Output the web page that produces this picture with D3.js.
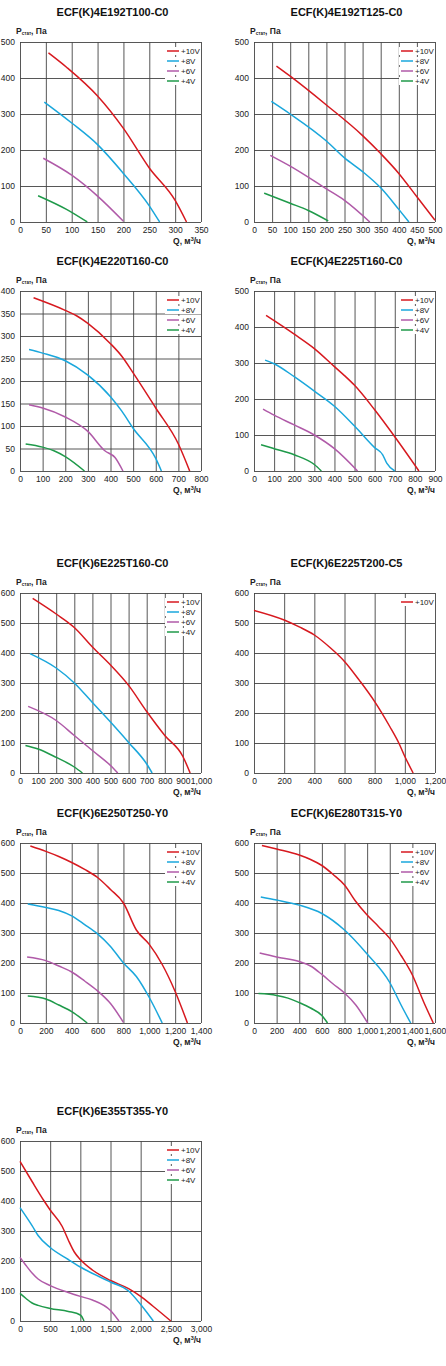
<!DOCTYPE html>
<head>
<meta charset="utf-8">
<style>
  body { margin:0; background:#fff; }
  svg { font-family: 'Liberation Sans', Arial, sans-serif; }
  .title { font-size:11px; font-weight:bold; fill:#111; }
  .tick text { font-size:8.5px; fill:#222; }
  .grid line { stroke:#444; stroke-width:0.9; }
  .grid .light { stroke:#aaa; }
  .domain { display:none; }
  .lbl { font-size:8.5px; font-weight:bold; fill:#222; }
  .leg { font-size:8px; fill:#222; }
</style>
</head>
<body>
<div id="chart"></div>
<script src="https://cdnjs.cloudflare.com/ajax/libs/d3/7.8.5/d3.min.js"></script>
<script>
var voltages = ["+10V", "+8V", "+6V", "+4V"];
var colors = ["#d7191f", "#1aa7dc", "#b05aa8", "#1f9a4a"];

var titles = ["ECF(K)4E192T100-C0", "ECF(K)4E192T125-C0", "ECF(K)4E220T160-C0", "ECF(K)4E225T160-C0",
  "ECF(K)6E225T160-C0", "ECF(K)6E225T200-C5", "ECF(K)6E250T250-Y0", "ECF(K)6E280T315-Y0", "ECF(K)6E355T355-Y0"];
var xMax = [350, 500, 800, 900, 1000, 1200, 1400, 1600, 3000];
var xStep = [50, 50, 100, 100, 100, 200, 200, 200, 500];
var yMax = [500, 500, 400, 500, 600, 600, 600, 600, 600];
var yStep = [100, 100, 50, 100, 100, 100, 100, 100, 100];

// [Q, P] points per voltage, per chart
var c1 = [
  [[55,470],[90,430],[150,350],[200,260],[250,150],[300,60],[322,0]],
  [[47,333],[100,275],[150,215],[200,135],[250,45],[270,0]],
  [[45,177],[100,130],[150,72],[200,2]],
  [[35,73],[90,35],[130,0]]];
var c2 = [
  [[62,433],[100,405],[200,325],[300,240],[350,190],[400,135],[450,70],[500,5]],
  [[48,335],[100,300],[200,225],[250,178],[300,140],[350,95],[400,35],[428,0]],
  [[45,185],[100,155],[200,92],[250,60],[320,0]],
  [[28,80],[100,52],[150,32],[205,3]]];
var c3 = [
  [[60,385],[200,357],[250,345],[300,328],[400,283],[450,255],[500,218],[600,140],[700,60],[750,0]],
  [[40,270],[100,262],[200,245],[300,213],[400,165],[450,133],[500,95],[600,28],[625,0]],
  [[40,147],[100,140],[200,120],[300,88],[375,45],[420,30],[455,0]],
  [[25,60],[100,53],[150,45],[200,32],[285,0]]];
var c4 = [
  [[60,432],[200,380],[300,340],[400,290],[450,265],[500,238],[600,170],[700,95],[820,0]],
  [[55,308],[100,298],[200,262],[300,222],[400,180],[500,125],[600,65],[640,45],[660,22],[700,0]],
  [[45,172],[100,155],[200,128],[300,100],[400,62],[515,0]],
  [[35,73],[100,62],[200,45],[300,18],[335,0]]];
var c5 = [
  [[70,582],[200,530],[300,485],[400,420],[500,360],[600,292],[700,205],[800,125],[900,55],[940,0]],
  [[55,398],[200,350],[300,300],[400,235],[500,170],[600,102],[700,30],[730,0]],
  [[45,222],[200,175],[300,125],[400,75],[500,25],[540,0]],
  [[30,92],[100,80],[200,52],[300,20],[345,0]]];
var c6 = [
  [[0,542],[200,510],[300,487],[400,460],[500,420],[600,372],[700,308],[800,238],[900,155],[960,100],[1000,55],[1055,0]]];
var c7 = [
  [[80,590],[200,572],[300,555],[400,535],[500,512],[600,485],[700,445],[800,400],[900,310],[1000,262],[1100,195],[1200,105],[1295,0]],
  [[60,397],[200,385],[300,375],[400,357],[500,328],[600,297],[700,255],[800,200],[900,155],[1000,85],[1100,0]],
  [[55,220],[200,208],[300,190],[400,170],[500,140],[600,107],[700,65],[800,2]],
  [[60,90],[200,80],[300,60],[400,38],[520,0]]];
var c8 = [
  [[70,592],[200,580],[400,560],[500,545],[600,525],[700,495],[800,460],[900,405],[1000,360],[1100,322],[1200,282],[1300,225],[1400,160],[1500,70],[1585,0]],
  [[60,420],[200,410],[400,393],[600,365],[800,310],[1000,230],[1200,135],[1300,60],[1385,0]],
  [[50,233],[200,220],[400,205],[500,190],[600,162],[700,130],[800,100],[900,60],[1005,0]],
  [[40,98],[200,92],[300,83],[400,68],[500,50],[600,25],[650,0]]];
var c9 = [
  [[0,532],[200,465],[400,400],[500,370],[700,315],[800,270],[900,230],[1000,205],[1200,170],[1500,135],[1800,108],[2000,82],[2200,50],[2500,0]],
  [[0,378],[200,318],[300,285],[500,245],[800,205],[1000,180],[1500,130],[1800,100],[2000,55],[2210,0]],
  [[0,212],[100,185],[200,160],[300,140],[500,118],[800,95],[1000,82],[1200,70],[1500,35],[1640,0]],
  [[0,92],[100,75],[200,60],[300,52],[500,42],[800,32],[1000,20],[1050,5],[1060,0]]];
var curves = [c1, c2, c3, c4, c5, c6, c7, c8, c9];

// layout: plot top per row, left per column
var rowTop = [42, 291, 593, 843, 1141];
var colLeft = [20, 254];
var W = 181, H = 180;

var svg = d3.select("#chart").append("svg").attr("width", 446).attr("height", 1366);

curves.forEach(function(series, i) {
  var x0 = colLeft[i % 2], y0 = rowTop[Math.floor(i / 2)];
  var g = svg.append("g").attr("transform", "translate(" + x0 + "," + y0 + ")");
  var x = d3.scaleLinear().domain([0, xMax[i]]).range([0, W]);
  var y = d3.scaleLinear().domain([0, yMax[i]]).range([H, 0]);
  var xt = d3.range(0, xMax[i] + 1, xStep[i]);
  var yt = d3.range(0, yMax[i] + 1, yStep[i]);

  g.append("g").attr("class", "grid")
    .call(d3.axisBottom(x).tickValues(xt).tickSize(H).tickFormat(""));
  g.append("g").attr("class", "grid")
    .call(d3.axisLeft(y).tickValues(yt).tickSize(-W).tickFormat(""));
  g.selectAll(".grid line").attr("stroke", "#444");

  g.append("g").attr("transform", "translate(0," + H + ")")
    .call(d3.axisBottom(x).tickValues(xt).tickSize(0).tickPadding(5));
  g.append("g")
    .call(d3.axisLeft(y).tickValues(yt).tickSize(0).tickPadding(5));

  var line = d3.line().x(function(d) { return x(d[0]); }).y(function(d) { return y(d[1]); })
    .curve(d3.curveMonotoneX);
  series.forEach(function(s, k) {
    g.append("path").datum(s).attr("d", line)
      .attr("fill", "none").attr("stroke", colors[k]).attr("stroke-width", 1.5);
  });

  // legend
  var leg = g.append("g").attr("transform", "translate(" + (W - 34) + ",9)");
  series.forEach(function(s, k) {
    var r = leg.append("g").attr("transform", "translate(0," + (k * 10) + ")");
    r.append("rect").attr("x", -2).attr("y", -4).attr("width", 36).attr("height", 8).attr("fill", "#fff");
    r.append("line").attr("x1", 0).attr("x2", 12).attr("stroke", colors[k]).attr("stroke-width", 1.5);
    r.append("text").attr("class", "leg").attr("x", 14).attr("dy", "0.33em").text(voltages[k]);
  });

  g.append("text").attr("class", "title").attr("x", W / 2 + 2).attr("y", -26)
    .attr("text-anchor", "middle").text(titles[i]);
  var p = g.append("text").attr("class", "lbl").attr("x", -4).attr("y", -8);
  p.append("tspan").text("P");
  p.append("tspan").attr("font-size", "4.5px").attr("dy", 1).text("стат");
  p.append("tspan").attr("dy", -1).text(", Па");
  var q = g.append("text").attr("class", "lbl").attr("x", W).attr("y", H + 22).attr("text-anchor", "end");
  q.append("tspan").text("Q, м");
  q.append("tspan").attr("font-size", "5.5px").attr("dy", -3).text("3");
  q.append("tspan").attr("dy", 3).text("/ч");
});
</script>
</body>
